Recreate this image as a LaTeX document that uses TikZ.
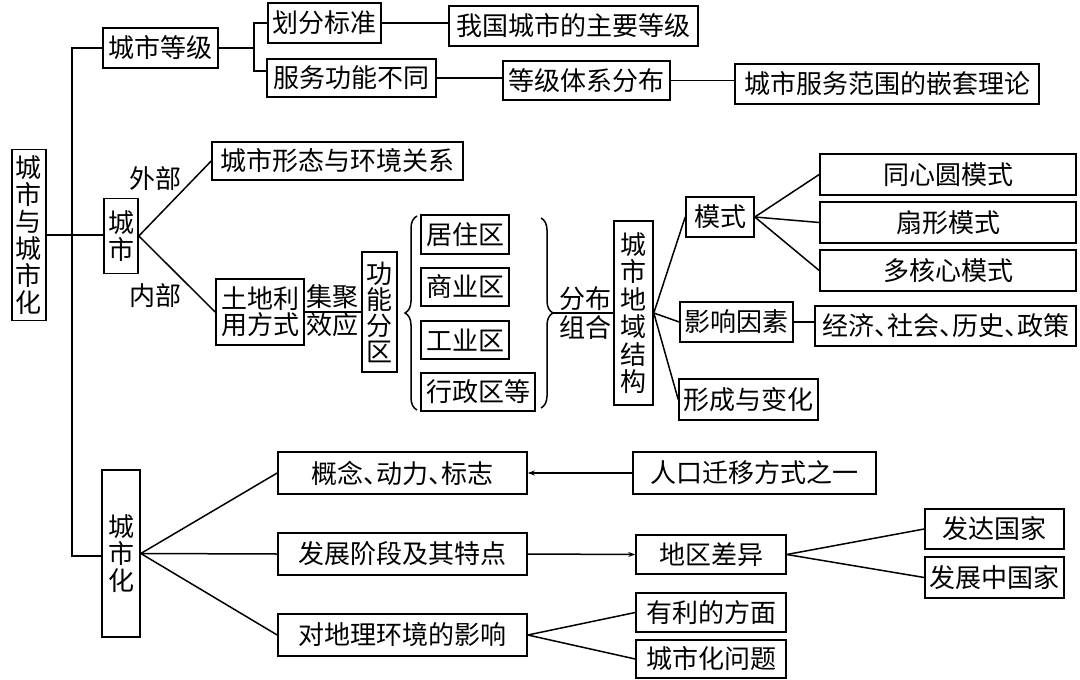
\documentclass[tikz,border=0pt]{standalone}
\usepackage{fontspec}
\newfontfamily\cjk{Noto Sans CJK SC}
\newcommand{\dun}{\makebox[0.5em][l]{、}}
\usetikzlibrary{arrows.meta,decorations.pathreplacing,calc}
\begin{document}
\begin{tikzpicture}[x=1pt,y=-1pt,
  every node/.style={font=\cjk\fontsize{26}{30}\selectfont, inner sep=0pt, align=center},
  bx/.style={draw, line width=1.6pt},
  sz/.style 2 args={minimum width=#1pt,minimum height=#2pt},
  vt/.style={font=\cjk\fontsize{26}{#1}\selectfont},
  ln/.style={line width=1.5pt},
  arr/.style={line width=1.5pt,-{Stealth[length=7pt,width=5pt]}},
  br/.style={line width=1.5pt,decorate,decoration={brace,amplitude=12pt}}
]
\fill[white] (0,0) rectangle (1080,680);
\useasboundingbox (0,0) rectangle (1080,680);

% root and first level
\node[bx,sz={34}{171},vt=27] (root) at (29,235) {城\\市\\与\\城\\市\\化};
\node[bx,sz={115}{40}] (dj) at (160.5,48) {城市等级};
\node[bx,sz={113}{40}] (hf) at (324.5,23) {划分标准};
\node[bx,sz={169}{38}] (fw) at (351.5,78) {服务功能不同};
\node[bx,sz={249}{40}] (wg) at (573.5,26) {我国城市的主要等级};
\node[bx,sz={167}{39}] (tx) at (586.5,80.5) {等级体系分布};
\node[bx,sz={304}{40}] (qt) at (887,84) {城市服务范围的嵌套理论};

\coordinate (trTop) at (72,48);
\coordinate (trBot) at (72,556);
\coordinate (brX) at (254,48);
\coordinate (brT) at (254,23);
\coordinate (brB) at (254,71);

% 城市
\node[bx,sz={34}{75},vt=27] (cs) at (121,236) {城\\市};
\node (wb) at (155,179) {外部};
\node (nb) at (155,296) {内部};
\node[bx,sz={251}{38}] (xt) at (337.5,161) {城市形态与环境关系};
\node[bx,sz={88}{66},vt=26] (td) at (260,312) {土地利\\用方式};
\node (jj) at (332,297) {集聚};
\node (xy) at (332,325) {效应};
\node[bx,sz={35}{120},vt=26] (gn) at (379.5,312) {功\\能\\分\\区};
\node[bx,sz={88}{39}] (jz) at (465,234.5) {居住区};
\node[bx,sz={88}{38}] (sy) at (465,287) {商业区};
\node[bx,sz={88}{38}] (gy) at (465,340) {工业区};
\node[bx,sz={114}{38}] (xz) at (478,392) {行政区等};
\coordinate (lbA) at (417,410);
\coordinate (lbB) at (417,216);
\coordinate (rbA) at (541,218);
\coordinate (rbB) at (541,408);
\coordinate (rbt) at (553,313);
\node (fb) at (585,299) {分布};
\node (zh) at (585,328) {组合};
\node[bx,sz={39}{184},vt=27.5] (dy) at (633.5,313) {城\\市\\地\\域\\结\\构};
\node[bx,sz={68}{40}] (ms) at (720,217) {模式};
\node[bx,sz={256}{41}] (tx1) at (948,174.5) {同心圆模式};
\node[bx,sz={256}{41}] (sx) at (948,222.5) {扇形模式};
\node[bx,sz={256}{41}] (dh) at (948,270.5) {多核心模式};
\node[bx,sz={113}{40}] (yx) at (736.5,322) {影响因素};
\node[bx,sz={261}{40}] (jjs) at (945.5,326) {经济\dun 社会\dun 历史\dun 政策};
\node[bx,sz={139}{41}] (xc) at (748.5,399.5) {形成与变化};

% 城市化
\node[bx,sz={38}{167},vt=27] (csh) at (121,553.5) {城\\市\\化};
\node[bx,sz={249}{42}] (gd) at (402.5,473) {概念\dun 动力\dun 标志};
\node[bx,sz={249}{42}] (fz) at (402.5,554) {发展阶段及其特点};
\node[bx,sz={249}{42}] (dl) at (402.5,635) {对地理环境的影响};
\node[bx,sz={243}{42}] (rk) at (754.5,473) {人口迁移方式之一};
\node[bx,sz={150}{39}] (dq) at (711,554.5) {地区差异};
\node[bx,sz={139}{40}] (fd) at (994.5,529) {发达国家};
\node[bx,sz={139}{41}] (fzz) at (994.5,577.5) {发展中国家};
\node[bx,sz={150}{39}] (yl) at (711,612.5) {有利的方面};
\node[bx,sz={150}{38}] (wt) at (711,659) {城市化问题};

% connectors: top branch
\draw[ln] (dj.west) -- (trTop) -- (trBot) -- (trBot -| csh.west);
\draw[ln] (root.east) -- (root.east -| cs.west);
\draw[ln] (dj.east) -- (brX);
\draw[ln] (hf.west) -- (brT) -- (brB) -- (brB -| fw.west);
\draw[ln] (hf.east) -- (hf.east -| wg.west);
\draw[ln] (fw.east) -- (fw.east -| tx.west);
\draw[ln] (tx.east) -- (tx.east -| qt.west);

% 城市 branch
\draw[ln] (cs.east) -- (xt.west);
\draw[ln] (cs.east) -- (td.west);
\draw[ln] (td.east) -- (gn.west);
\draw[br] (lbA) -- (lbB);
\draw[br] (rbA) -- (rbB);
\draw[ln] (rbt) -- (rbt -| dy.west);
\draw[ln] (dy.east) -- (ms.west);
\draw[ln] (dy.east) -- (yx.west);
\draw[ln] (dy.east) -- (xc.west);
\draw[ln] (ms.east) -- (tx1.west);
\draw[ln] (ms.east) -- (sx.west);
\draw[ln] (ms.east) -- (dh.west);
\draw[ln] (yx.east) -- (yx.east -| jjs.west);

% 城市化 branch
\draw[ln] (csh.east) -- (gd.west);
\draw[ln] (csh.east) -- (fz.west);
\draw[ln] (csh.east) -- (dl.west);
\draw[arr] (rk.west) -- (gd.east);
\draw[arr] (fz.east) -- (dq.west);
\draw[ln] (dq.east) -- (fd.west);
\draw[ln] (dq.east) -- (fzz.west);
\draw[ln] (dl.east) -- (yl.west);
\draw[ln] (dl.east) -- (wt.west);
\end{tikzpicture}
\end{document}
